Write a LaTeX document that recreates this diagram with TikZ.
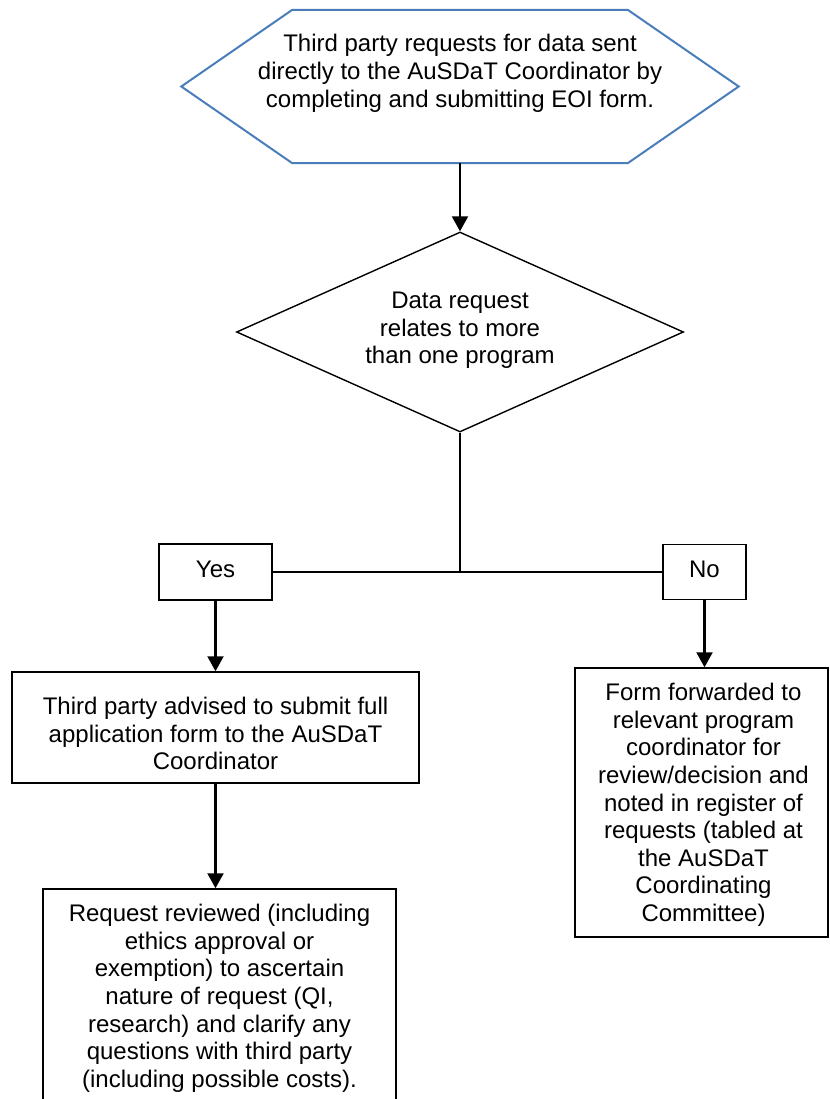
\documentclass[tikz,border=0pt]{standalone}
\usepackage{fontspec}
\setmainfont{Liberation Sans}
\usetikzlibrary{shapes.geometric,arrows.meta}
\definecolor{hexblue}{RGB}{74,126,187}
\begin{document}
\begin{tikzpicture}[x=1pt,y=-1pt,
  txt/.style={font=\fontsize{24}{27.6}\selectfont, align=center, inner sep=0pt,
              execute at begin node={\strut}, execute at end node={\strut}},
  boxnode/.style={draw=black, line width=1.5pt, rectangle, inner sep=0pt},
  flow/.style={line width=2.2pt, -{Triangle[width=16pt,length=15pt]}},
  plainline/.style={line width=1.4pt},
  thinline/.style={line width=1.1pt}]
\useasboundingbox (0,0) rectangle (829,1099);

% hexagon
\node[inner sep=0pt, minimum width=557pt, minimum height=153pt] (hex) at (460,86.5) {};
\draw[draw=hexblue, line width=2pt, line join=miter]
  (hex.west) -- ([xshift=111pt]hex.north west) -- ([xshift=-111pt]hex.north east)
  -- (hex.east) -- ([xshift=-111pt]hex.south east) -- ([xshift=111pt]hex.south west) -- cycle;
\node[txt] (hext) at ([yshift=11.5pt]hex.center)
  {Third party requests for data sent\\directly to the AuSDaT Coordinator by\\completing and submitting EOI form.};

% decision
\node[txt, shape=diamond, draw=black, line width=1.4pt, minimum width=447pt,
      minimum height=200pt, aspect=2.235] (diam) at (460,332)
  {Data request\\relates to more\\than one program};

\draw[flow] (hex.south) -- (diam.north);

% yes / no
\node[boxnode, txt, minimum width=113pt, minimum height=56pt] (yes) at (215.5,572) {Yes};
\node[boxnode, txt, minimum width=83pt, minimum height=55pt] (no) at (704.5,572) {No};
\coordinate (j) at (460,572);
\draw[thinline] (diam.south) -- (j);
\draw[plainline] (yes.east) -- (no.west);

% left branch
\node[boxnode, minimum width=407pt, minimum height=111pt] (b1) at (215.5,727.5) {};
\node[txt] (b1t) at ([yshift=-10pt]b1.center)
  {Third party advised to submit full\\application form to the AuSDaT\\Coordinator};
\draw[flow] (yes.south) -- (b1.north);

\node[boxnode, minimum width=353pt, minimum height=216pt] (b2) at (219.5,997) {};
\node[txt] (b2t) at ([yshift=-3pt]b2.center)
  {Request reviewed (including\\ethics approval or\\exemption) to ascertain\\nature of request (QI,\\research) and clarify any\\questions with third party\\(including possible costs).};
\draw[flow] (b1.south) -- (b1.south |- b2.north);

% right branch
\node[boxnode, minimum width=253pt, minimum height=269pt] (rb) at (701.5,802.5) {};
\node[txt] (rbt) at ([xshift=2pt,yshift=-4pt]rb.center)
  {Form forwarded to\\relevant program\\coordinator for\\review/decision and\\noted in register of\\requests (tabled at\\the AuSDaT\\Coordinating\\Committee)};
\draw[flow] (no.south) -- (no.south |- rb.north);
\end{tikzpicture}
\end{document}
